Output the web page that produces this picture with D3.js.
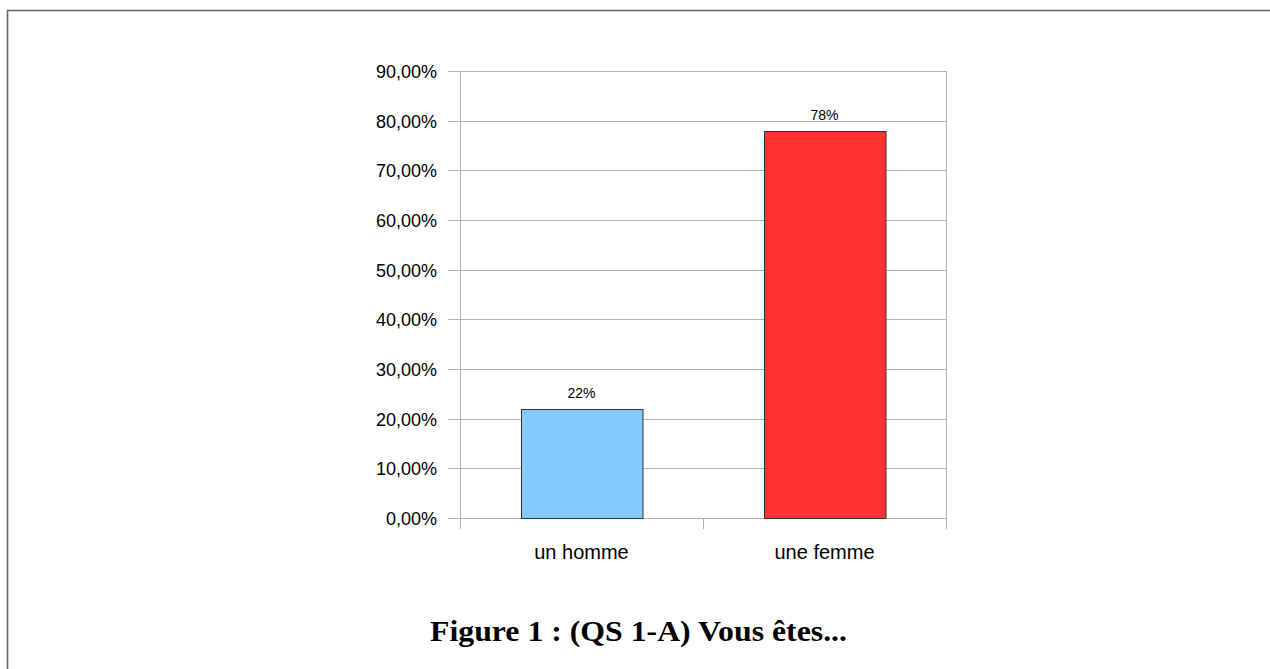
<!DOCTYPE html>
<html>
<head>
<meta charset="utf-8">
<script src="https://cdn.jsdelivr.net/npm/d3@7"></script>
<style>
  body { margin: 0; background: #fff; }
  svg { display: block; }
  .tick-label { font-family: "Liberation Sans", Arial, sans-serif; fill: #000; }
</style>
</head>
<body>
<svg id="chart" width="1270" height="669"></svg>
<script>
// chart data
var categories = ["un homme", "une femme"];
var values = [0.22, 0.78];
var valueLabels = ["22%", "78%"];
var barColors = ["#83caff", "#ff3333"];
var yTicks = [0, 0.1, 0.2, 0.3, 0.4, 0.5, 0.6, 0.7, 0.8, 0.9];
var title = "Figure 1 : (QS 1-A) Vous êtes...";

var $svg = d3.select("#chart");

// plot box (note: "top" is taken by window.top, so use plotTop)
var plotLeft = 460, plotRight = 946, plotTop = 71, plotBottom = 518;
var gridColor = "#b3b3b3";

// outer frame (runs off the right and bottom edges)
$svg.append("rect")
    .attr("x", 7.5).attr("y", 10.5)
    .attr("width", 1400).attr("height", 800)
    .attr("fill", "none")
    .attr("stroke", "#6a6a6a")
    .attr("stroke-width", 1.6);

var y = d3.scaleLinear().domain([0, 0.9]).range([plotBottom, plotTop]);
var x = d3.scaleBand().domain(categories).range([plotLeft, plotRight])
    .paddingInner(0.5).paddingOuter(0.25);

var fmt = function(d){ return d3.format(".2f")(d*100).replace(".", ",") + "%"; };

// gridlines + y ticks
var $grid = $svg.append("g");
yTicks.forEach(function(t){
    var yy = Math.round(y(t)) + 0.5;
    $grid.append("line")
        .attr("x1", plotLeft - 12).attr("x2", plotRight)
        .attr("y1", yy).attr("y2", yy)
        .attr("stroke", gridColor).attr("stroke-width", 1);
    $grid.append("text")
        .attr("class", "tick-label")
        .attr("x", 437).attr("y", yy)
        .attr("dy", "0.36em")
        .attr("text-anchor", "end")
        .attr("font-size", 18)
        .text(fmt(t));
});

// vertical axis lines
[plotLeft, plotRight].forEach(function(xx){
    $svg.append("line")
        .attr("x1", xx + 0.5).attr("x2", xx + 0.5)
        .attr("y1", plotTop).attr("y2", plotBottom + 11)
        .attr("stroke", gridColor).attr("stroke-width", 1);
});
// category separator tick
categories.slice(1).forEach(function(c){
    var xx = Math.round(x(c) - (x.step() - x.bandwidth()) / 2) + 0.5;
    $svg.append("line")
        .attr("x1", xx).attr("x2", xx)
        .attr("y1", plotBottom).attr("y2", plotBottom + 11)
        .attr("stroke", gridColor).attr("stroke-width", 1);
});

// bars
$svg.append("g").selectAll("rect")
    .data(categories)
    .join("rect")
    .attr("x", function(d){ return Math.round(x(d)) + 0.5; })
    .attr("y", function(d, i){ return Math.round(y(values[i])) + 0.5; })
    .attr("width", x.bandwidth())
    .attr("height", function(d, i){ return Math.round(y(0)) - Math.round(y(values[i])); })
    .attr("fill", function(d, i){ return barColors[i]; })
    .attr("stroke", "#333")
    .attr("stroke-width", 1);

// value labels
$svg.append("g").selectAll("text")
    .data(categories)
    .join("text")
    .attr("class", "tick-label")
    .attr("x", function(d){ return x(d) + x.bandwidth() / 2; })
    .attr("y", function(d, i){ return y(values[i]) - 11; })
    .attr("text-anchor", "middle")
    .attr("font-size", 14)
    .text(function(d, i){ return valueLabels[i]; });

// category labels
$svg.append("g").selectAll("text")
    .data(categories)
    .join("text")
    .attr("class", "tick-label")
    .attr("x", function(d){ return x(d) + x.bandwidth() / 2; })
    .attr("y", 559)
    .attr("text-anchor", "middle")
    .attr("font-size", 20)
    .text(function(d){ return d; });

// title
$svg.append("text")
    .attr("x", 430).attr("y", 641)
    .attr("font-family", "'Liberation Serif', 'Times New Roman', serif")
    .attr("font-weight", "bold")
    .attr("font-size", 30)
    .attr("textLength", 417)
    .attr("lengthAdjust", "spacingAndGlyphs")
    .text(title);
</script>
</body>
</html>
